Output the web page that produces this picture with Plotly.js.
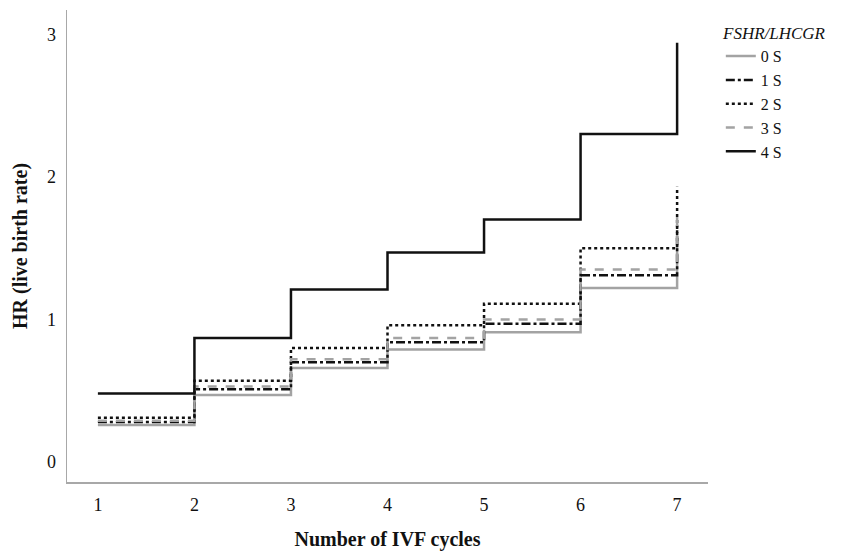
<!DOCTYPE html>
<html>
<head>
<meta charset="utf-8">
<script src="https://cdn.plot.ly/plotly-3.0.1.min.js"></script>
<style>html,body{margin:0;padding:0;background:#fff;}#chart{width:862px;height:551px;}</style>
</head>
<body>
<div id="chart"></div>
<script>
const cycles = [1, 2, 3, 4, 5, 6, 7];
const hr0S = [0.26, 0.47, 0.66, 0.79, 0.91, 1.22, 1.55];
const hr1S = [0.28, 0.51, 0.70, 0.84, 0.97, 1.31, 1.66];
const hr2S = [0.31, 0.57, 0.80, 0.96, 1.11, 1.50, 1.93];
const hr3S = [0.29, 0.53, 0.72, 0.87, 1.00, 1.35, 1.72];
const hr4S = [0.48, 0.87, 1.21, 1.47, 1.70, 2.30, 2.94];
const seriesNames = ['0 S', '1 S', '2 S', '3 S', '4 S'];
const xTicks = ['1', '2', '3', '4', '5', '6', '7'];

const styles = [
  {color: '#a3a3a3', width: 2.5, dash: 'solid'},
  {color: '#111111', width: 2.5, dash: 'dashdot'},
  {color: '#111111', width: 2.5, dash: 'dot'},
  {color: '#a3a3a3', width: 2.5, dash: 'dash'},
  {color: '#111111', width: 2.5, dash: 'solid'}
];
const allSeries = [hr0S, hr1S, hr2S, hr3S, hr4S];

const traces = allSeries.map((ys, i) => ({
  x: cycles,
  y: ys,
  type: 'scatter',
  mode: 'lines',
  name: seriesNames[i],
  line: {shape: 'hv', color: styles[i].color, width: styles[i].width, dash: styles[i].dash},
  hoverinfo: 'x+y+name'
}));

const serif = '"Liberation Serif", "Times New Roman", Times, serif';
const layout = {
  width: 862, height: 551,
  paper_bgcolor: '#ffffff', plot_bgcolor: '#ffffff',
  margin: {l: 67, r: 154, t: 10, b: 69},
  font: {family: serif, color: '#111111', size: 18},
  showlegend: true,
  legend: {
    x: 1.02, y: 0.985, xanchor: 'left', yanchor: 'top',
    title: {text: '<i>FSHR/LHCGR</i>', side: 'top center', font: {family: serif, size: 17, color: '#111111'}},
    font: {family: serif, size: 16, color: '#111111'},
    itemwidth: 30, tracegroupgap: 0,
    bgcolor: 'rgba(0,0,0,0)'
  },
  xaxis: {
    range: [0.68, 7.32],
    tickmode: 'array', tickvals: cycles, ticktext: xTicks,
    showgrid: false, zeroline: false,
    showline: true, linecolor: '#a8a8a8', linewidth: 1.5,
    ticks: '', ticklabelstandoff: 6,
    tickfont: {family: serif, size: 18, color: '#111111'},
    title: {text: '<b>Number of IVF cycles</b>', font: {family: serif, size: 20, color: '#111111'}, standoff: 22}
  },
  yaxis: {
    range: [-0.14, 3.17],
    tickmode: 'array', tickvals: [0, 1, 2, 3], ticktext: ['0', '1', '2', '3'],
    showgrid: false, zeroline: false,
    showline: true, linecolor: '#a8a8a8', linewidth: 1.5,
    ticks: '', ticklabelstandoff: 6,
    tickfont: {family: serif, size: 18, color: '#111111'},
    title: {text: '<b>HR (live birth rate)</b>', font: {family: serif, size: 20, color: '#111111'}, standoff: 14}
  }
};

Plotly.newPlot('chart', traces, layout, {displayModeBar: false, staticPlot: true});
</script>
</body>
</html>
